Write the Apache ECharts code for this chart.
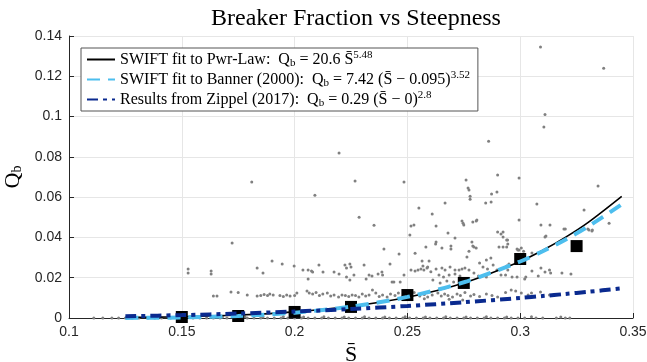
<!DOCTYPE html>
<html>
<head>
<meta charset="utf-8">
<script src="https://cdn.jsdelivr.net/npm/echarts@6/dist/echarts.min.js"></script>
<style>
  html, body { margin: 0; padding: 0; background: #fff; }
  #chart { width: 647px; height: 362px; }
</style>
</head>
<body>
<div id="chart"></div>
<script>
var pointsUpper = [
  [0.309,0.1345],[0.337,0.124],[0.311,0.101],[0.3105,0.0948],[0.286,0.0878],[0.2197,0.0819],
  [0.290,0.071],[0.2995,0.0695],[0.276,0.0685],[0.181,0.0675],[0.2268,0.068],[0.2485,0.0675],
  [0.3345,0.0655],[0.209,0.061],[0.2773,0.0635],[0.2897,0.0625],[0.2778,0.059],[0.2871,0.0576],
  [0.2667,0.0571],[0.3074,0.0566],[0.2551,0.0546],[0.3283,0.0536],[0.261,0.0516],[0.2286,0.050],
  [0.2995,0.0486],[0.2742,0.0481],[0.2808,0.0486],[0.279,0.0476],[0.3394,0.0471],[0.2352,0.0461],
  [0.2529,0.0462],[0.2516,0.0457],[0.275,0.0462],[0.3092,0.0462],[0.3132,0.0462],[0.3194,0.0442],
  [0.33,0.0442],[0.332,0.0437],[0.290,0.0427],[0.2915,0.0417],[0.268,0.0422],[0.2511,0.0412],
  [0.311,0.0402],[0.2924,0.0402],[0.2711,0.0397],[0.294,0.0387],[0.2945,0.0367],[0.2627,0.0377],
  [0.2625,0.0367],[0.2786,0.0377],[0.279,0.0357],[0.2795,0.0352],[0.2805,0.0347],[0.2396,0.0342],
  [0.2582,0.0352],[0.2653,0.0347],[0.2693,0.0357],[0.2693,0.0342],[0.2906,0.0352],[0.2924,0.0352],
  [0.294,0.0352],[0.299,0.0337],[0.2773,0.0332],[0.2764,0.0303],[0.2986,0.0342],[0.2995,0.0337],
  [0.3005,0.0347],[0.3015,0.0332],[0.3052,0.0323],[0.2463,0.0318],[0.2534,0.0322],[0.1723,0.0372],
  [0.2627,0.0457],[0.2747,0.0471],[0.2769,0.0645],[0.2778,0.0605],[0.2805,0.0481],[0.2847,0.0571],
  [0.2873,0.0616],[0.2924,0.0427],[0.2944,0.0387],[0.3114,0.0407],[0.3200,0.0442],[0.3305,0.0437],
  [0.3318,0.0432]
];
var pointsMid = [
  [0.2565,0.0283],[0.2596,0.0283],[0.2569,0.0258],[0.259,0.0253],[0.2423,0.0268],[0.190,0.0283],
  [0.1945,0.0268],[0.1998,0.0258],[0.1834,0.0248],[0.186,0.0223],[0.1528,0.0243],[0.1528,0.0223],
  [0.163,0.0233],[0.163,0.0218],[0.2037,0.0238],[0.206,0.0238],[0.2075,0.0233],[0.208,0.0228],
  [0.206,0.0194],[0.2108,0.0263],[0.2126,0.0228],[0.2175,0.0228],[0.2197,0.0218],[0.2223,0.0263],
  [0.223,0.0248],[0.2245,0.0268],[0.225,0.0253],[0.223,0.0203],[0.2245,0.0189],[0.2263,0.0213],
  [0.2308,0.0263],[0.2317,0.0194],[0.233,0.0213],[0.2343,0.0208],[0.237,0.0218],[0.2387,0.0228],
  [0.239,0.0213],[0.244,0.0179],
  [0.2516,0.0238],[0.2534,0.0233],[0.2547,0.0238],[0.2560,0.0243],[0.2573,0.0238],[0.2587,0.0248],
  [0.2604,0.0230],[0.2627,0.0243],[0.2653,0.0248],[0.2667,0.0238],[0.2689,0.0253],[0.2711,0.0238],
  [0.2729,0.0238],[0.2742,0.0243],[0.2755,0.0248],[0.2773,0.0238],[0.2640,0.0213],[0.2660,0.0203],
  [0.2685,0.0213],[0.2711,0.0218],[0.2733,0.0208],[0.2613,0.0189],[0.2645,0.0174],[0.2675,0.0184],
  [0.2705,0.0179],[0.285,0.0203],[0.2897,0.0238],[0.2915,0.0213],[0.2935,0.0213],[0.2945,0.0238],
  [0.2964,0.0203],[0.2940,0.0258],[0.2950,0.0268],[0.2986,0.0203],[0.302,0.0194],[0.3025,0.0203],
  [0.3052,0.0233],[0.308,0.0208],[0.3092,0.0248],[0.311,0.0228],[0.313,0.0238],[0.3135,0.0223],
  [0.3185,0.0223],[0.3225,0.0218],[0.282,0.0273],[0.285,0.0288],[0.288,0.0263],[0.2835,0.0253],
  [0.287,0.0298],[0.2855,0.0243],[0.2432,0.0179],[0.2468,0.0179],[0.2485,0.0213],[0.2795,0.0223],
  [0.2815,0.0208],[0.2768,0.0194]
];
var pointsLow = [
  [0.164,0.0109],[0.1656,0.0109],[0.1718,0.0129],[0.175,0.0127],[0.179,0.0114],[0.1834,0.0109],
  [0.185,0.0112],[0.1865,0.0117],[0.188,0.0112],[0.189,0.0119],[0.1905,0.0114],[0.1935,0.0112],
  [0.195,0.0107],[0.1965,0.0114],[0.198,0.0109],[0.200,0.0112],[0.201,0.0124],[0.2055,0.0134],
  [0.2065,0.0124],[0.208,0.0119],[0.2095,0.0127],[0.211,0.0112],[0.2125,0.0119],[0.2145,0.0124],
  [0.216,0.0109],[0.2175,0.0114],[0.2195,0.0104],[0.221,0.0114],[0.2225,0.0112],[0.224,0.0107],
  [0.2255,0.0114],[0.227,0.0112],[0.2285,0.0104],[0.230,0.0119],[0.2315,0.0109],[0.233,0.0114],
  [0.2345,0.0139],[0.236,0.0124],[0.2375,0.0107],[0.239,0.0114],[0.241,0.0104],[0.2425,0.0119],
  [0.2445,0.0112],[0.246,0.0124],[0.248,0.0107],[0.250,0.0119],[0.2515,0.0114],[0.253,0.0127],
  [0.2555,0.0109],[0.2575,0.0117],[0.259,0.0104],[0.261,0.0114],[0.2635,0.0124],[0.265,0.0109],
  [0.2665,0.0119],[0.268,0.0112],[0.270,0.0104],[0.272,0.0119],[0.2735,0.0112],[0.2755,0.0127],
  [0.278,0.0109],[0.2795,0.0117],[0.282,0.0107],[0.285,0.0119],[0.2875,0.0112],[0.290,0.0104],
  [0.2935,0.0127],[0.296,0.0139],[0.298,0.0134],[0.3005,0.0124],[0.3035,0.0114],[0.305,0.0124],
  [0.309,0.0129],[0.313,0.0114],[0.2685,0.0093],[0.2745,0.0089],[0.2575,0.0095]
];
var zeroX = [
  0.111,0.115,0.119,0.122,0.125,0.128,0.131,0.135,0.138,0.141,0.145,0.148,0.151,0.155,0.158,
  0.161,0.164,0.167,0.170,0.173,0.176,0.179,0.182,0.185,0.188,0.191,0.194,0.197,0.200,0.203,
  0.206,0.209,0.212,0.215,0.218,0.221,0.224,0.227,0.230,0.233,0.236,0.239,0.242,0.245,0.248,
  0.251,0.254,0.257,0.260,0.263,0.266,0.269,0.272,0.275,0.278,0.281,0.284,0.287,0.290,0.293,
  0.296,0.299,0.302,0.307,0.310,0.316,0.320,0.322
];
var nearZero = [
  [0.168,0.0005],[0.178,0.0006],[0.186,0.0005],[0.195,0.0006],[0.204,0.0005],[0.213,0.0006],
  [0.222,0.0005],[0.231,0.0006],[0.240,0.0005],[0.249,0.0006],[0.258,0.0005],[0.267,0.0006],
  [0.276,0.0005],[0.285,0.0006],[0.294,0.0005],[0.305,0.0006],[0.318,0.0005]
];

// bin averages (black squares)
var binX = [0.15, 0.175, 0.2, 0.225, 0.25, 0.275, 0.3, 0.325];
var binQ = [0.0005, 0.001, 0.003, 0.0055, 0.0114, 0.0174, 0.0293, 0.0357];

// fitted curves, values
var fitX      = [0.125, 0.15, 0.175, 0.2, 0.225, 0.25, 0.275, 0.3, 0.31, 0.32, 0.33, 0.345];
var pwrLaw    = [0.00023, 0.00063, 0.00146, 0.00304, 0.0058, 0.01033, 0.01743, 0.02808, 0.03362, 0.04003, 0.04736, 0.0604];
var banner    = [0.00003, 0.00027, 0.00102, 0.00266, 0.00565, 0.01048, 0.01774, 0.02805, 0.03317, 0.0389, 0.04536, 0.0564];
var zippel    = [0.00086, 0.00143, 0.0022, 0.0032, 0.00445, 0.00598, 0.00781, 0.00996, 0.01092, 0.01193, 0.0130, 0.0147];

var names = ['pwr', 'banner', 'zippel'];
var legendRich = {
  pwr: '{t|SWIFT fit to Pwr-Law:  Q}{sub|b}{t| = 20.6 S\u0304}{sup|5.48}',
  banner: '{t|SWIFT fit to Banner (2000):  Q}{sub|b}{t| = 7.42 (S\u0304 \u2212 0.095)}{sup|3.52}',
  zippel: '{t|Results from Zippel (2017):  Q}{sub|b}{t| = 0.29 (S\u0304 \u2212 0)}{sup|2.8}'
};

var scatterData = pointsUpper.concat(pointsMid, pointsLow, nearZero,
  zeroX.map(function (x) { return [x, 0]; }));

function zip(xs, ys) {
  return xs.map(function (x, i) { return [x, ys[i]]; });
}

var serif = "'Liberation Serif', 'DejaVu Serif', serif";
var sans = "'Liberation Sans', Arial, sans-serif";

var chart = echarts.init(document.getElementById('chart'), null, { renderer: 'canvas' });
chart.setOption({
  animation: false,
  backgroundColor: '#fff',
  title: {
    text: 'Breaker Fraction vs Steepness',
    left: 351, top: 2, textAlign: 'center',
    textStyle: { fontFamily: serif, fontSize: 24, fontWeight: 'normal', color: '#000' }
  },
  grid: { left: 69, right: 14, top: 36, bottom: 44, outerBoundsMode: 'none', containLabel: false },
  legend: {
    data: names,
    orient: 'vertical',
    left: 81, top: 48,
    padding: [2, 8, 2, 5],
    itemGap: 1,
    itemWidth: 28, itemHeight: 14,
    itemStyle: { opacity: 0, borderWidth: 0 },
    backgroundColor: '#fff',
    borderColor: '#555', borderWidth: 1, borderRadius: 0,
    formatter: function (n) { return legendRich[n]; },
    textStyle: {
      rich: {
        t: { fontFamily: serif, fontSize: 16, color: '#000', lineHeight: 19 },
        sub: { fontFamily: serif, fontSize: 11, color: '#000', verticalAlign: 'bottom', lineHeight: 14 },
        sup: { fontFamily: serif, fontSize: 11, color: '#000', verticalAlign: 'top', lineHeight: 12 }
      }
    }
  },
  xAxis: {
    type: 'value', min: 0.1, max: 0.35, interval: 0.05,
    name: '{a|S\u0304}', nameLocation: 'middle', nameGap: 21,
    nameTextStyle: { rich: { a: { fontFamily: serif, fontSize: 22, color: '#000' } } },
    axisLine: { lineStyle: { color: '#262626', width: 1 } },
    axisTick: { inside: true, length: 5, lineStyle: { color: '#262626' } },
    axisLabel: {
      fontFamily: sans, fontSize: 14, color: '#262626', margin: 7,
      formatter: function (v) { return String(+v.toFixed(2)); }
    },
    splitLine: { show: true, lineStyle: { color: '#e6e6e6', width: 1 } }
  },
  yAxis: {
    type: 'value', min: 0, max: 0.14, interval: 0.02,
    name: '{a|Q}{b|b}', nameLocation: 'middle', nameGap: 42, nameRotate: 90,
    nameTextStyle: {
      rich: {
        a: { fontFamily: serif, fontSize: 22, color: '#000' },
        b: { fontFamily: serif, fontSize: 14, color: '#000', verticalAlign: 'bottom', lineHeight: 16 }
      }
    },
    axisLine: { show: true, lineStyle: { color: '#262626', width: 1 } },
    axisTick: { show: true, inside: true, length: 5, lineStyle: { color: '#262626' } },
    axisLabel: {
      fontFamily: sans, fontSize: 14, color: '#262626', margin: 7,
      formatter: function (v) { return String(+v.toFixed(2)); }
    },
    splitLine: { show: true, lineStyle: { color: '#e6e6e6', width: 1 } }
  },
  series: [
    {
      name: 'data', type: 'scatter', data: scatterData,
      symbol: 'circle', symbolSize: 3,
      itemStyle: { color: '#808080', opacity: 1 }, z: 2
    },
    {
      name: 'bins', type: 'scatter', data: zip(binX, binQ),
      symbol: 'rect', symbolSize: 12,
      itemStyle: { color: '#000', opacity: 1 }, z: 3
    },
    {
      name: 'pwr', type: 'line', data: zip(fitX, pwrLaw), smooth: 0.3,
      symbol: 'none', lineStyle: { color: '#000', width: 1.6, type: 'solid' },
      itemStyle: { color: '#000' }, z: 4
    },
    {
      name: 'banner', type: 'line', data: zip(fitX, banner), smooth: 0.3,
      symbol: 'none', lineStyle: { color: '#4dbeee', width: 4, type: [13, 8] },
      itemStyle: { color: '#4dbeee' }, z: 5
    },
    {
      name: 'zippel', type: 'line', data: zip(fitX, zippel), smooth: 0.3,
      symbol: 'none', lineStyle: { color: '#0a2a8f', width: 4, type: [11, 5, 4, 5] },
      itemStyle: { color: '#0a2a8f' }, z: 6
    }
  ]
});
</script>
</body>
</html>
